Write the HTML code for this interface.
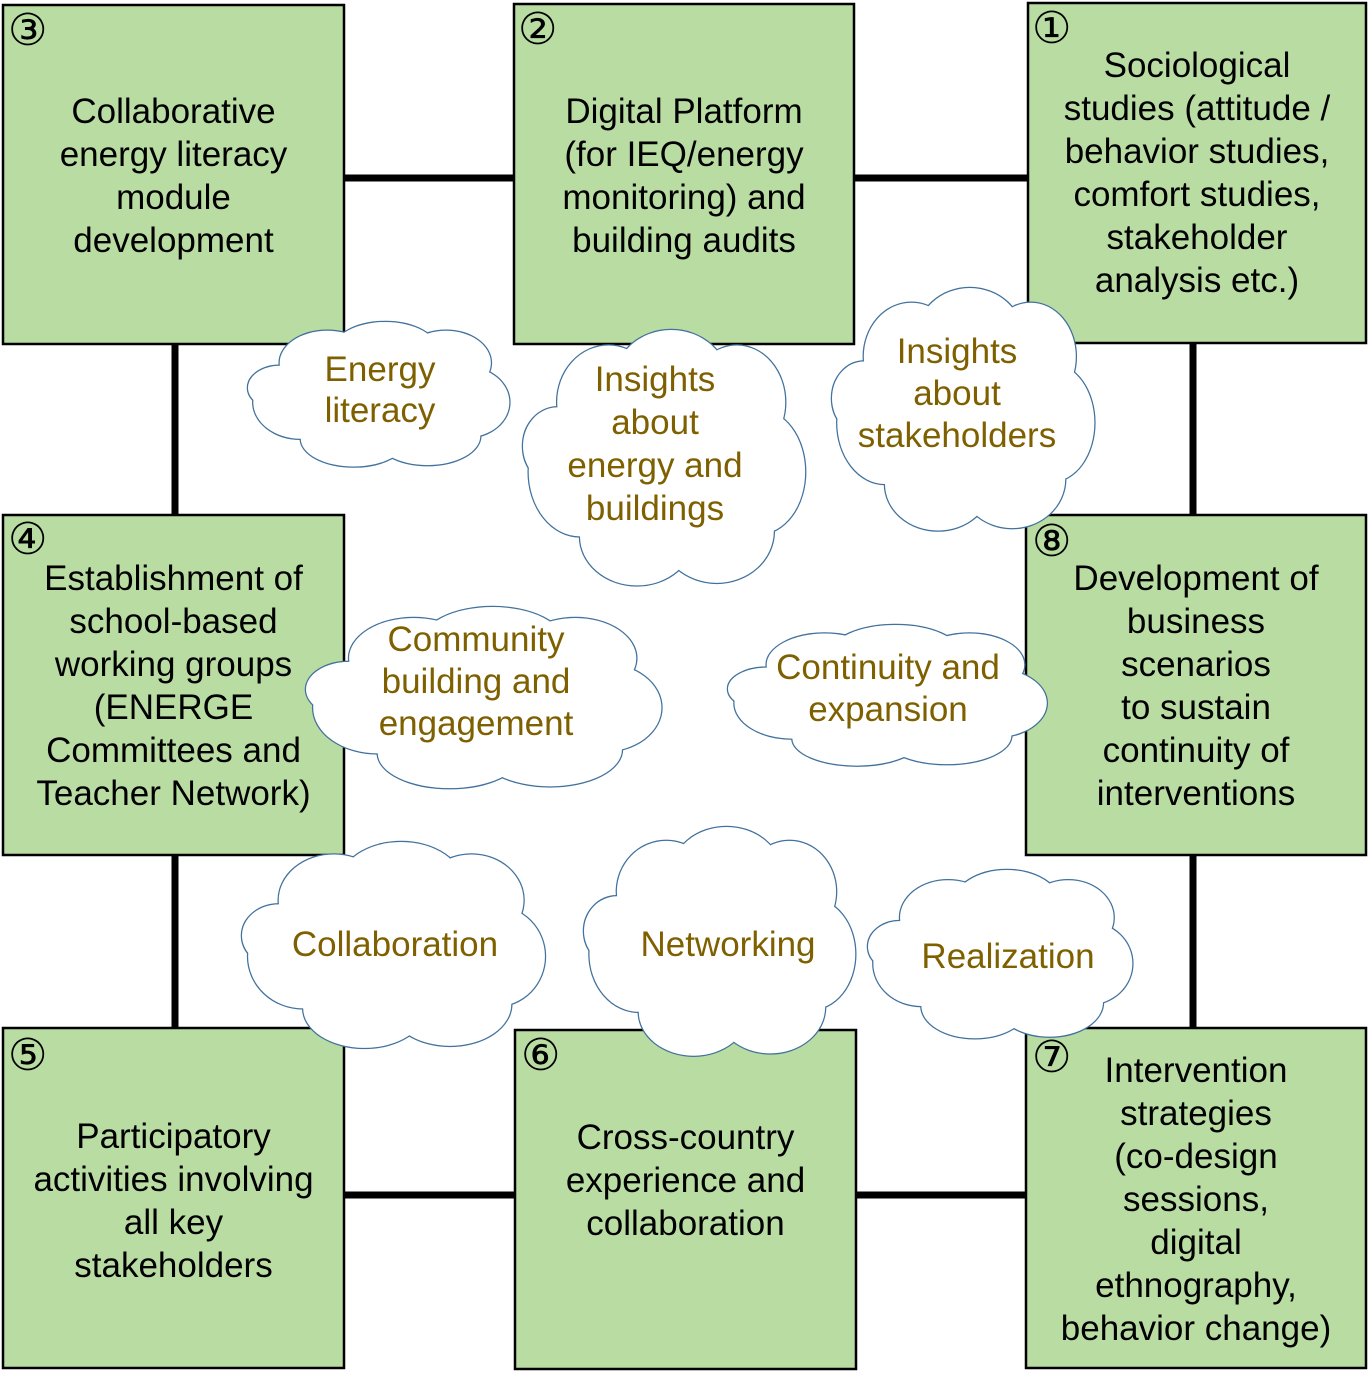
<!DOCTYPE html>
<html><head><meta charset="utf-8">
<style>
html,body{margin:0;padding:0;background:#fff;}
body{width:1369px;height:1373px;position:relative;overflow:hidden;font-family:"Liberation Sans",Arial,sans-serif;}
svg{position:absolute;left:0;top:0;}
.t{position:absolute;text-align:center;font-size:35px;line-height:43px;color:#000;white-space:nowrap;}
.c{position:absolute;text-align:center;font-size:35px;line-height:42px;color:#7f6000;white-space:nowrap;}
.n{position:absolute;font-family:"DejaVu Sans",sans-serif;font-size:44px;line-height:44px;color:#000;}
</style></head><body>
<svg width="1369" height="1373" viewBox="0 0 1369 1373">
<defs>
<g id="cs" fill="none" stroke="#41719c" stroke-width="2.5">
<ellipse vector-effect="non-scaling-stroke" cx="0.5" cy="0.5" rx="0.36" ry="0.32"/>
<ellipse vector-effect="non-scaling-stroke" cx="0.2" cy="0.55" rx="0.18" ry="0.25"/>
<ellipse vector-effect="non-scaling-stroke" cx="0.3" cy="0.28" rx="0.18" ry="0.22"/>
<ellipse vector-effect="non-scaling-stroke" cx="0.52" cy="0.2" rx="0.2" ry="0.2"/>
<ellipse vector-effect="non-scaling-stroke" cx="0.75" cy="0.28" rx="0.17" ry="0.22"/>
<ellipse vector-effect="non-scaling-stroke" cx="0.83" cy="0.55" rx="0.16" ry="0.24"/>
<ellipse vector-effect="non-scaling-stroke" cx="0.68" cy="0.78" rx="0.2" ry="0.2"/>
<ellipse vector-effect="non-scaling-stroke" cx="0.4" cy="0.8" rx="0.2" ry="0.19"/>
<ellipse vector-effect="non-scaling-stroke" cx="0.12" cy="0.45" rx="0.12" ry="0.15"/>
</g>
<g id="cf" fill="#fff" stroke="none">
<ellipse cx="0.5" cy="0.5" rx="0.36" ry="0.32"/>
<ellipse cx="0.2" cy="0.55" rx="0.18" ry="0.25"/>
<ellipse cx="0.3" cy="0.28" rx="0.18" ry="0.22"/>
<ellipse cx="0.52" cy="0.2" rx="0.2" ry="0.2"/>
<ellipse cx="0.75" cy="0.28" rx="0.17" ry="0.22"/>
<ellipse cx="0.83" cy="0.55" rx="0.16" ry="0.24"/>
<ellipse cx="0.68" cy="0.78" rx="0.2" ry="0.2"/>
<ellipse cx="0.4" cy="0.8" rx="0.2" ry="0.19"/>
<ellipse cx="0.12" cy="0.45" rx="0.12" ry="0.15"/>
</g>
</defs>
<g stroke="#000" stroke-width="7">
<line x1="344" y1="178" x2="514" y2="178"/>
<line x1="854" y1="178" x2="1028" y2="178"/>
<line x1="175" y1="344" x2="175" y2="515"/>
<line x1="175" y1="855" x2="175" y2="1028"/>
<line x1="1193" y1="343" x2="1193" y2="515"/>
<line x1="1193" y1="855" x2="1193" y2="1028"/>
<line x1="344" y1="1195" x2="515" y2="1195"/>
<line x1="856" y1="1195" x2="1026" y2="1195"/>
</g>
<g fill="#b9dca3" stroke="#000" stroke-width="2.5">
<rect x="3" y="5" width="341" height="339"/>
<rect x="514" y="4" width="340" height="340"/>
<rect x="1028" y="3" width="338" height="340"/>
<rect x="3" y="515" width="341" height="340"/>
<rect x="1026" y="515" width="340" height="340"/>
<rect x="3" y="1028" width="341" height="340"/>
<rect x="515" y="1030" width="341" height="339"/>
<rect x="1026" y="1028" width="340" height="340"/>
</g>
<g>
<use href="#cs" transform="translate(248,322) scale(264,146)"/><use href="#cf" transform="translate(248,322) scale(264,146)"/>
<use href="#cs" transform="translate(523,330) scale(285,258)"/><use href="#cf" transform="translate(523,330) scale(285,258)"/>
<use href="#cs" transform="translate(832,288) scale(265,245)"/><use href="#cf" transform="translate(832,288) scale(265,245)"/>
<use href="#cs" transform="translate(306,607) scale(359,183)"/><use href="#cf" transform="translate(306,607) scale(359,183)"/>
<use href="#cs" transform="translate(728,625) scale(322,142)"/><use href="#cf" transform="translate(728,625) scale(322,142)"/>
<use href="#cs" transform="translate(242,842) scale(306,208)"/><use href="#cf" transform="translate(242,842) scale(306,208)"/>
<use href="#cs" transform="translate(584,827) scale(274,231)"/><use href="#cf" transform="translate(584,827) scale(274,231)"/>
<use href="#cs" transform="translate(868,870) scale(267,170)"/><use href="#cf" transform="translate(868,870) scale(267,170)"/>
</g>
</svg>

<div class="n" style="left:8px;top:9px">③</div>
<div class="n" style="left:518px;top:8px">②</div>
<div class="n" style="left:1032px;top:7px">①</div>
<div class="n" style="left:8px;top:518px">④</div>
<div class="n" style="left:1032px;top:520px">⑧</div>
<div class="n" style="left:8px;top:1034px">⑤</div>
<div class="n" style="left:521px;top:1034px">⑥</div>
<div class="n" style="left:1032px;top:1036px">⑦</div>

<div class="t" style="left:3px;width:341px;top:90px">Collaborative<br>energy literacy<br>module<br>development</div>
<div class="t" style="left:514px;width:340px;top:90px">Digital Platform<br>(for IEQ/energy<br>monitoring) and<br>building audits</div>
<div class="t" style="left:1028px;width:338px;top:44px">Sociological<br>studies (attitude /<br>behavior studies,<br>comfort studies,<br>stakeholder<br>analysis etc.)</div>
<div class="t" style="left:3px;width:341px;top:557px">Establishment of<br>school-based<br>working groups<br>(ENERGE<br>Committees and<br>Teacher Network)</div>
<div class="t" style="left:1026px;width:340px;top:557px">Development of<br>business<br>scenarios<br>to sustain<br>continuity of<br>interventions</div>
<div class="t" style="left:3px;width:341px;top:1115px">Participatory<br>activities involving<br>all key<br>stakeholders</div>
<div class="t" style="left:515px;width:341px;top:1116px">Cross-country<br>experience and<br>collaboration</div>
<div class="t" style="left:1026px;width:340px;top:1049px">Intervention<br>strategies<br>(co-design<br>sessions,<br>digital<br>ethnography,<br>behavior change)</div>

<div class="c" style="left:230px;width:300px;top:349px;line-height:41px">Energy<br>literacy</div>
<div class="c" style="left:505px;width:300px;top:358px;line-height:43px">Insights<br>about<br>energy and<br>buildings</div>
<div class="c" style="left:807px;width:300px;top:331px">Insights<br>about<br>stakeholders</div>
<div class="c" style="left:326px;width:300px;top:619px">Community<br>building and<br>engagement</div>
<div class="c" style="left:738px;width:300px;top:647px">Continuity and<br>expansion</div>
<div class="c" style="left:245px;width:300px;top:924px">Collaboration</div>
<div class="c" style="left:578px;width:300px;top:924px">Networking</div>
<div class="c" style="left:858px;width:300px;top:936px">Realization</div>
</body></html>
